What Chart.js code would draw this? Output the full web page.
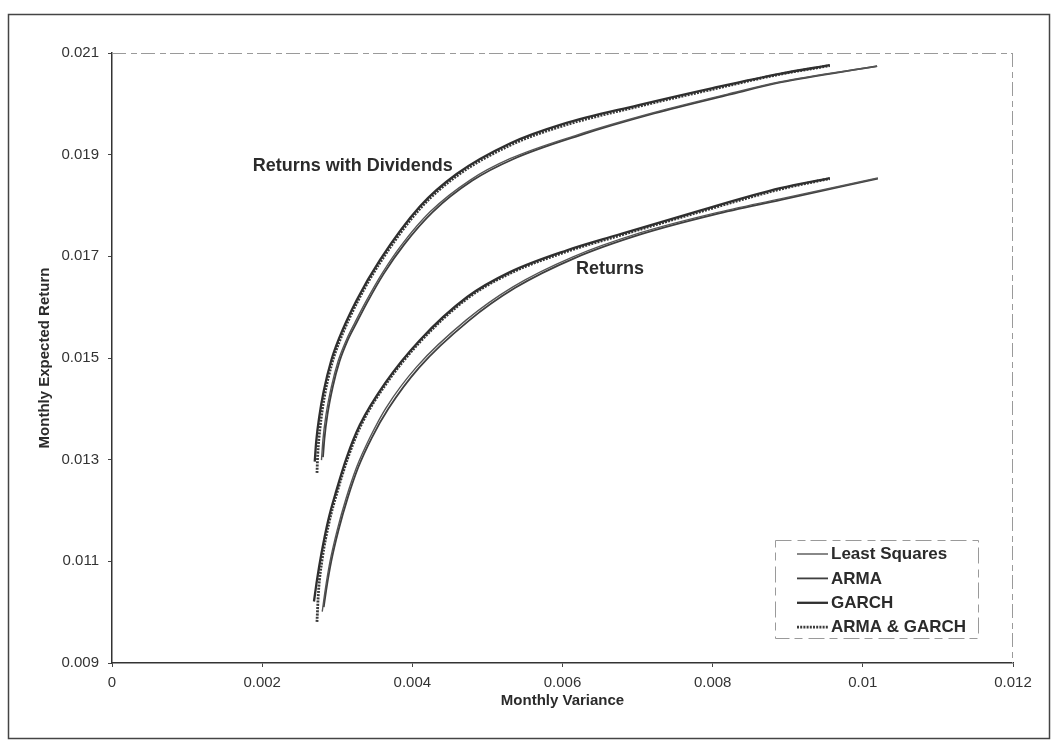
<!DOCTYPE html>
<html><head><meta charset="utf-8">
<script src="https://cdn.jsdelivr.net/npm/chart.js@4.4.1/dist/chart.umd.min.js"></script>
<style>html,body{margin:0;padding:0;background:#fff;} canvas{display:block;}</style>
</head><body>
<canvas id="c" width="1059" height="742"></canvas>
<script>
const seriesNames = ['Least Squares', 'ARMA', 'GARCH', 'ARMA & GARCH'];
const xTickLabels = ['0', '0.002', '0.004', '0.006', '0.008', '0.01', '0.012'];
const yTickLabels = ['0.009', '0.011', '0.013', '0.015', '0.017', '0.019', '0.021'];
const groupLabels = ['Returns with Dividends', 'Returns'];

// Returns with Dividends
const lsDivX = [0.00279, 0.00281, 0.00285, 0.00292, 0.00301, 0.00312, 0.00324, 0.00337, 0.00360, 0.00386, 0.00424, 0.00477, 0.00530, 0.00620, 0.00720, 0.00820, 0.00889, 0.01019];
const lsDivY = [0.01299, 0.01340, 0.01388, 0.01442, 0.01493, 0.01535, 0.01571, 0.01608, 0.01667, 0.01723, 0.01788, 0.01850, 0.01892, 0.01939, 0.01982, 0.02019, 0.02043, 0.02074];
const armaDivX = [0.00281, 0.00283, 0.00287, 0.00294, 0.00303, 0.00314, 0.00326, 0.00339, 0.00362, 0.00389, 0.00427, 0.00480, 0.00534, 0.00623, 0.00722, 0.00822, 0.00890, 0.01019];
const armaDivY = [0.01305, 0.01342, 0.01389, 0.01443, 0.01493, 0.01535, 0.01570, 0.01607, 0.01666, 0.01723, 0.01787, 0.01849, 0.01891, 0.01938, 0.01981, 0.02018, 0.02042, 0.02074];
const garchDivX = [0.00270, 0.00272, 0.00276, 0.00282, 0.00292, 0.00302, 0.00326, 0.00357, 0.00410, 0.00459, 0.00530, 0.00600, 0.00700, 0.00800, 0.00889, 0.00956];
const garchDivY = [0.01296, 0.01336, 0.01384, 0.01435, 0.01495, 0.01537, 0.01614, 0.01693, 0.01798, 0.01862, 0.01922, 0.01960, 0.01997, 0.02031, 0.02059, 0.02076];
const agDivX = [0.00273, 0.00274, 0.00277, 0.00283, 0.00293, 0.00303, 0.00327, 0.00358, 0.00411, 0.00460, 0.00531, 0.00601, 0.00701, 0.00801, 0.00889, 0.00956];
const agDivY = [0.01274, 0.01310, 0.01362, 0.01425, 0.01490, 0.01533, 0.01611, 0.01690, 0.01795, 0.01859, 0.01919, 0.01957, 0.01995, 0.02029, 0.02058, 0.02075];

// Returns
const lsRetX = [0.00280, 0.00284, 0.00290, 0.00300, 0.00312, 0.00326, 0.00344, 0.00365, 0.00406, 0.00472, 0.00534, 0.00614, 0.00703, 0.00800, 0.00890, 0.01020];
const lsRetY = [0.01001, 0.01044, 0.01097, 0.01162, 0.01225, 0.01286, 0.01345, 0.01402, 0.01483, 0.01575, 0.01640, 0.01699, 0.01746, 0.01784, 0.01813, 0.01854];
const armaRetX = [0.00282, 0.00286, 0.00292, 0.00302, 0.00314, 0.00328, 0.00346, 0.00368, 0.00409, 0.00475, 0.00537, 0.00617, 0.00706, 0.00802, 0.00891, 0.01020];
const armaRetY = [0.01010, 0.01050, 0.01100, 0.01163, 0.01225, 0.01285, 0.01343, 0.01400, 0.01481, 0.01573, 0.01638, 0.01697, 0.01744, 0.01782, 0.01811, 0.01853];
const garchRetX = [0.00269, 0.00273, 0.00279, 0.00288, 0.00299, 0.00313, 0.00330, 0.00364, 0.00410, 0.00473, 0.00530, 0.00606, 0.00673, 0.00783, 0.00890, 0.00956];
const garchRetY = [0.01021, 0.01063, 0.01116, 0.01181, 0.01240, 0.01306, 0.01368, 0.01451, 0.01535, 0.01620, 0.01669, 0.01712, 0.01742, 0.01790, 0.01834, 0.01854];
const agRetX = [0.00273, 0.00275, 0.00280, 0.00289, 0.00300, 0.00314, 0.00331, 0.00365, 0.00411, 0.00474, 0.00531, 0.00607, 0.00674, 0.00784, 0.00890, 0.00956];
const agRetY = [0.00981, 0.01040, 0.01105, 0.01176, 0.01237, 0.01303, 0.01366, 0.01449, 0.01533, 0.01618, 0.01667, 0.01710, 0.01740, 0.01788, 0.01832, 0.01853];

const styles = [
  {color: '#555555', width: 1.4, dash: []},
  {color: '#3f3f3f', width: 1.8, dash: []},
  {color: '#2f2f2f', width: 2.3, dash: []},
  {color: '#3a3a3a', width: 2.8, dash: [2, 1.2]}
];

function pts(xs, ys) { return xs.map((x, i) => ({x: x, y: ys[i]})); }
function ds(label, si, xs, ys) {
  const s = styles[si];
  return {label: label, data: pts(xs, ys), showLine: true, pointRadius: 0, borderColor: s.color,
    backgroundColor: s.color, borderWidth: s.width, borderDash: s.dash, fill: false,
    cubicInterpolationMode: 'monotone'};
}

const datasets = [
  ds(seriesNames[0], 0, lsDivX, lsDivY),
  ds(seriesNames[1], 1, armaDivX, armaDivY),
  ds(seriesNames[2], 2, garchDivX, garchDivY),
  ds(seriesNames[3], 3, agDivX, agDivY),
  ds(seriesNames[0], 0, lsRetX, lsRetY),
  ds(seriesNames[1], 1, armaRetX, armaRetY),
  ds(seriesNames[2], 2, garchRetX, garchRetY),
  ds(seriesNames[3], 3, agRetX, agRetY)
];

const FONT = '"Liberation Sans", Arial, sans-serif';

const decor = {
  id: 'decor',
  beforeDraw(chart) {
    const ctx = chart.ctx;
    ctx.save();
    ctx.fillStyle = '#fff';
    ctx.fillRect(0, 0, chart.width, chart.height);
    ctx.restore();
  },
  afterDraw(chart) {
    const ctx = chart.ctx;
    const a = chart.chartArea;
    ctx.save();
    // outer frame
    ctx.strokeStyle = '#444';
    ctx.lineWidth = 1.5;
    ctx.strokeRect(8.5, 14.5, 1041, 724);
    // top and right plot border (light, broken)
    ctx.strokeStyle = '#9a9a9a';
    ctx.lineWidth = 1;
    ctx.setLineDash([14, 5, 6, 4]);
    ctx.beginPath();
    ctx.moveTo(a.left, a.top + 0.5); ctx.lineTo(a.right, a.top + 0.5);
    ctx.moveTo(a.right - 0.5, a.top); ctx.lineTo(a.right - 0.5, a.bottom);
    ctx.stroke();
    ctx.setLineDash([]);

    // group annotations
    const xs = chart.scales.x, ys = chart.scales.y;
    ctx.fillStyle = '#2b2b2b';
    ctx.font = 'bold 18px ' + FONT;
    ctx.textBaseline = 'middle';
    ctx.textAlign = 'right';
    ctx.fillText(groupLabels[0], xs.getPixelForValue(0.00454), ys.getPixelForValue(0.01878));
    ctx.textAlign = 'left';
    ctx.fillText(groupLabels[1], xs.getPixelForValue(0.00618), ys.getPixelForValue(0.01675));

    // legend
    const lx = 775, ly = 540, lw = 203, lh = 98;
    ctx.strokeStyle = '#9a9a9a';
    ctx.lineWidth = 1;
    ctx.setLineDash([16, 6, 8, 5]);
    ctx.strokeRect(lx + 0.5, ly + 0.5, lw, lh);
    ctx.setLineDash([]);
    ctx.font = 'bold 17px ' + FONT;
    ctx.textAlign = 'left';
    ctx.textBaseline = 'middle';
    seriesNames.forEach((name, i) => {
      const yy = 554 + i * 24.4;
      const s = styles[i];
      ctx.strokeStyle = s.color;
      ctx.lineWidth = s.width;
      ctx.setLineDash(s.dash);
      ctx.beginPath();
      ctx.moveTo(797, yy); ctx.lineTo(828, yy);
      ctx.stroke();
      ctx.setLineDash([]);
      ctx.fillStyle = '#2b2b2b';
      ctx.fillText(name, 831, yy + 0.5);
    });
    ctx.restore();
  }
};

new Chart(document.getElementById('c'), {
  type: 'scatter',
  data: {datasets: datasets},
  options: {
    responsive: false,
    animation: false,
    devicePixelRatio: 1,
    layout: {padding: {left: 0, right: 46, top: 53, bottom: 0}},
    plugins: {legend: {display: false}, tooltip: {enabled: false}, title: {display: false}},
    scales: {
      x: {
        type: 'linear', min: 0, max: 0.012,
        afterFit: s => { s.height = 79; },
        ticks: {stepSize: 0.002, color: '#333', font: {family: FONT, size: 15}, padding: 7,
          maxRotation: 0, autoSkip: false,
          callback: (v, i) => xTickLabels[i]},
        grid: {drawOnChartArea: false, drawTicks: true, tickLength: 4, color: '#444', lineWidth: 1},
        border: {display: true, color: '#333', width: 1.5},
        title: {display: true, text: 'Monthly Variance', color: '#2b2b2b',
          font: {family: FONT, size: 15, weight: 'bold'}, padding: {top: 0, bottom: 32}}
      },
      y: {
        type: 'linear', min: 0.009, max: 0.021,
        afterFit: s => { s.width = 112; },
        ticks: {stepSize: 0.002, color: '#333', font: {family: FONT, size: 15}, padding: 9,
          autoSkip: false,
          callback: (v, i) => yTickLabels[i]},
        grid: {drawOnChartArea: false, drawTicks: true, tickLength: 4, color: '#444', lineWidth: 1},
        border: {display: true, color: '#333', width: 1.5},
        title: {display: true, text: 'Monthly Expected Return', color: '#2b2b2b',
          font: {family: FONT, size: 15, weight: 'bold'}, padding: {top: 36, bottom: 0}}
      }
    }
  },
  plugins: [decor]
});
</script>
</body></html>
